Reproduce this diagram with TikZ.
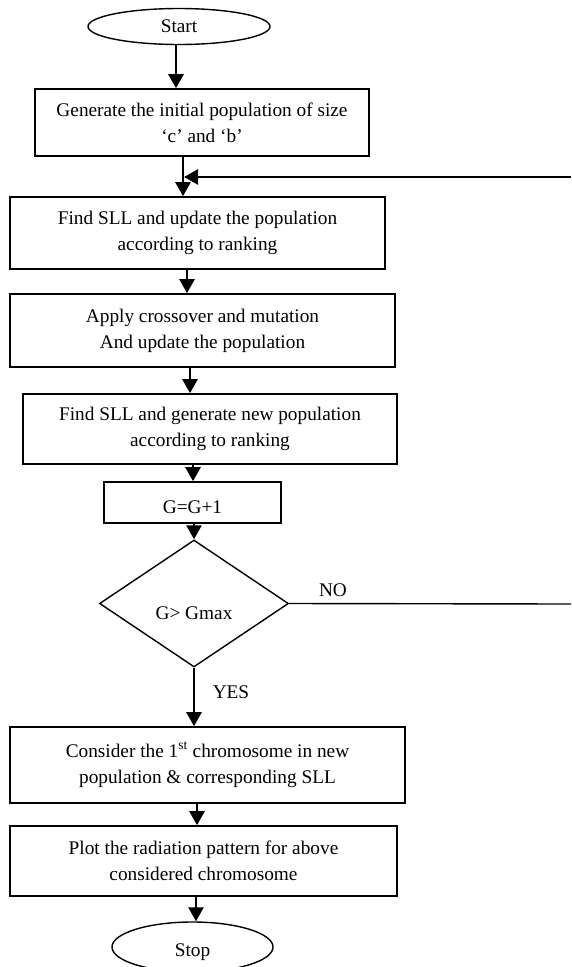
\documentclass[tikz,border=0pt]{standalone}
\usepackage{fontspec}
\setmainfont{Liberation Serif}
\usetikzlibrary{shapes.geometric,arrows.meta}
\def\lw{1.6pt}
\def\aw{2.6pt}

\tikzset{
  stepbox/.style={draw,line width=\lw,rectangle,align=center,inner sep=0pt},
  term/.style={draw,line width=1.4pt,ellipse,inner sep=0pt},
  decide/.style={draw,line width=1.4pt,diamond,inner sep=0pt},
  arr/.style={line width=\aw,-{Triangle[length=14pt,width=15pt]}},
  plain/.style={line width=1.4pt}
}

\begin{document}
\begin{tikzpicture}[x=1pt,y=-1pt,font=\fontsize{19.3}{26}\selectfont]

\useasboundingbox (0,0) rectangle (571,967);

%flow boxes, top to bottom
\node[term,minimum width=182pt,minimum height=36pt] (start) at (179,26.5) {Start};
\node[stepbox,minimum width=334pt,minimum height=67pt] (gen) at (202,122.5)
  {Generate the initial population of size\\ `c' and `b'};
\node[stepbox,minimum width=375pt,minimum height=72pt] (rank) at (197.5,233)
  {Find SLL and update the population\\ according to ranking};
\node[stepbox,minimum width=385pt,minimum height=73pt] (cross) at (202.5,330.5)
  {Apply crossover and mutation\\ And update the population};
\node[stepbox,minimum width=374pt,minimum height=70pt] (newpop) at (210,429)
  {Find SLL and generate new population\\ according to ranking};
\node[stepbox,minimum width=177pt,minimum height=41pt] (inc) at (192.5,502.5)
  {\raisebox{-10.5pt}[0pt][0pt]{G=G+1}};
\node[decide,minimum width=189pt,minimum height=127pt] (dec) at (194,603.5)
  {\raisebox{-15.5pt}[0pt][0pt]{G> Gmax}\hspace{28pt}};
\node[stepbox,minimum width=395pt,minimum height=76pt] (first) at (207.5,765)
  {Consider the 1\textsuperscript{st} chromosome in new\\ population \& corresponding SLL};
\node[stepbox,minimum width=387pt,minimum height=70pt] (plot) at (203.5,861)
  {Plot the radiation pattern for above\\ considered chromosome};
\node[term,minimum width=161pt,minimum height=50pt] (stop) at (192.5,947)
  {\raisebox{-9pt}[0pt][0pt]{Stop}};

%loop ends at the right edge
\coordinate (loopin) at (571,177);
\coordinate (join) at (184,177);
\coordinate (noout) at (571,604);

%arrows
\draw[arr] (start.south -| 176,0) -- (gen.north -| 176,0);
\draw[arr] (gen.south -| 183,0) -- (rank.north -| 183,0);
\draw[arr] (loopin) -- (join);
\draw[arr] (rank.south -| 187,0) -- (cross.north -| 187,0);
\draw[arr] (cross.south -| 190,0) -- (newpop.north -| 190,0);
\draw[arr] (newpop.south -| 193,0) -- (inc.north -| 193,0);
\draw[arr] (inc.south -| 194,0) -- (dec.north);
\draw[plain] (dec.east) -- (noout);
\draw[arr] (dec.south) -- (first.north -| 194,0);
\draw[arr] (first.south -| 197,0) -- (plot.north -| 197,0);
\draw[arr] (plot.south -| 196,0) -- (stop.north -| 196,0);

%labels
\node (nolbl) at (333,590) {NO};
\node (yeslbl) at (231,692) {YES};

\end{tikzpicture}
\end{document}
